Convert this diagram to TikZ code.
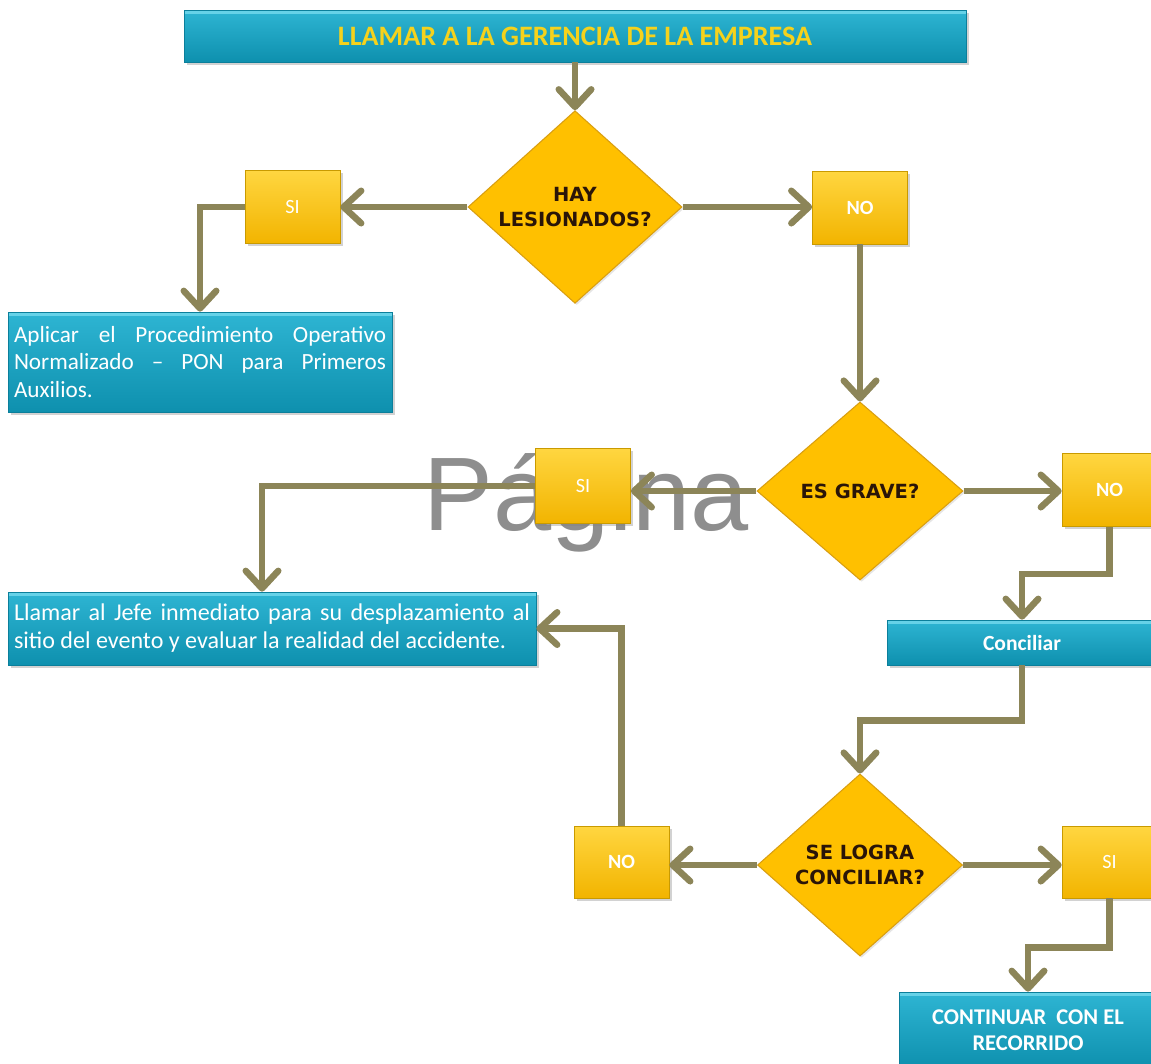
\documentclass[tikz,border=0pt]{standalone}
\usepackage{fontspec}
\setmainfont{Carlito}
\newfontfamily\diafont{DejaVu Sans}
\newfontfamily\wmfont{Liberation Sans}
\usetikzlibrary{arrows.meta,shapes.geometric,shadows}

% one unit of the drawing grid
\newlength\pxu
\setlength\pxu{0.02cm}

\definecolor{connc}{HTML}{8C8558}
\definecolor{tealtop}{HTML}{2EB5D3}
\definecolor{tealbot}{HTML}{0E90AE}
\definecolor{tealedge}{HTML}{0B7F9B}
\definecolor{tealhi}{HTML}{7FE0F2}
\definecolor{ytop}{HTML}{FFD640}
\definecolor{ybot}{HTML}{F2B400}
\definecolor{yedge}{HTML}{C99A00}
\definecolor{dfill}{HTML}{FFC000}
\definecolor{dedge}{HTML}{D99E10}
\definecolor{dtext}{HTML}{2A1508}
\definecolor{titletext}{HTML}{F5D21C}
\definecolor{wmgray}{HTML}{8E8E8E}

\begin{document}
\begin{tikzpicture}[x=0.02cm, y=-0.02cm,
  conn/.style={draw=connc, line width=3.7pt,
    -{Straight Barb[length=10pt, width=18.5pt, round]}},
  tealbox/.style={rectangle, inner sep=0pt, top color=tealtop, bottom color=tealbot,
    draw=tealedge, line width=0.4pt, text=white,
    drop shadow={shadow xshift=1.6pt, shadow yshift=-1.6pt, opacity=0.35},
    path picture={\fill[tealhi, opacity=0.7] (path picture bounding box.north west)
      rectangle ([yshift=-2.2pt]path picture bounding box.north east);}},
  ybox/.style={rectangle, inner sep=0pt, minimum width=95\pxu, minimum height=73\pxu,
    top color=ytop, bottom color=ybot, draw=yedge, line width=0.4pt, text=white,
    drop shadow={shadow xshift=1.6pt, shadow yshift=-1.6pt, opacity=0.35},
    font=\fontsize{11.5}{13}\selectfont},
  dia/.style={diamond, inner sep=0pt, fill=dfill, draw=dedge, line width=0.6pt,
    text=dtext, align=center, font=\diafont\bfseries\fontsize{11.1}{14.2}\selectfont,
    drop shadow={shadow xshift=1pt, shadow yshift=-1pt, opacity=0.2}},
  wm/.style={inner sep=0pt, text=wmgray, font=\wmfont\fontsize{59.5}{60}\selectfont}
]
\useasboundingbox (0,0) rectangle (1151,1063);
\fill[white] (0,0) rectangle (1151,1063);
\clip (0,0) rectangle (1151,1063);

% page watermark behind the chart
\node[wm, anchor=base west] (wm) at (423,530) {Página};

% process boxes
\node[tealbox, minimum width=782\pxu, minimum height=52\pxu, text=titletext,
  font=\bfseries\fontsize{16}{18}\selectfont] (top) at (575,36)
  {LLAMAR A LA GERENCIA DE LA EMPRESA};
\node[tealbox, minimum width=384\pxu, minimum height=100\pxu, text width=372\pxu,
  align=justify, font=\fontsize{13.2}{15.9}\selectfont] (ap) at (200,362)
  {Aplicar el Procedimiento Operativo\linebreak Normalizado – PON para Primeros\linebreak Auxilios.};
\node[tealbox, minimum width=528\pxu, minimum height=73\pxu, text width=516\pxu,
  align=justify, font=\fontsize{13.7}{15.9}\selectfont] (lj) at (272,628.5)
  {Llamar al Jefe inmediato para su desplazamiento al\linebreak sitio del evento y evaluar la realidad del accidente.};
\node[tealbox, minimum width=270\pxu, minimum height=45\pxu,
  font=\bfseries\fontsize{12.3}{14}\selectfont] (cc) at (1022,642.5) {Conciliar};
\node[tealbox, minimum width=258\pxu, minimum height=76\pxu, align=center,
  font=\bfseries\fontsize{12.8}{14.7}\selectfont] (co) at (1028,1030)
  {CONTINUAR\ \ CON EL\\RECORRIDO};

% decisions
\node[dia, minimum width=214\pxu, minimum height=191\pxu] (d1) at (575,207) {HAY\\LESIONADOS?};
\node[dia, minimum width=206\pxu, minimum height=178\pxu] (d2) at (860,491) {ES GRAVE?};
\node[dia, minimum width=205\pxu, minimum height=182\pxu] (d3) at (860,865) {SE LOGRA\\CONCILIAR?};

% answer boxes
\node[ybox] (si1) at (292.5,207) {SI};
\node[ybox, font=\bfseries\fontsize{11.5}{13}\selectfont] (no1) at (860,207.5) {NO};
\node[ybox, minimum height=75\pxu] (si2) at (583,486) {SI};
\node[ybox, font=\bfseries\fontsize{11.5}{13}\selectfont] (no2) at (1109.5,490) {NO};
\node[ybox, minimum height=72\pxu, font=\bfseries\fontsize{11.5}{13}\selectfont] (no3) at (621.5,862) {NO};
\node[ybox, minimum height=72\pxu] (si3) at (1109.5,862) {SI};

% connectors
\draw[conn] (top.south) -- (d1.north);
\draw[conn] (d1.west) -- (d1.west -| si1.east);
\draw[conn] (si1.west) -| (ap.north);
\draw[conn] (d1.east) -- (d1.east -| no1.west);
\draw[conn] (no1.south) -- (no1.south |- d2.north);
\draw[conn] (d2.west) -- (d2.west -| si2.east);
\draw[conn] (si2.west) -| ([xshift=-10\pxu]lj.north);
\draw[conn] (d2.east) -- (d2.east -| no2.west);
\draw[conn] (no2.south) -- ++(0,47) -| (cc.north);
\draw[conn] (cc.south) -- ++(0,55) -| (d3.north);
\draw[conn] (d3.west) -- (d3.west -| no3.east);
\draw[conn] (no3.north) |- (lj.east);
\draw[conn] (d3.east) -- (d3.east -| si3.west);
\draw[conn] (si3.south) -- ++(0,49) -| (co.north);
\end{tikzpicture}
\end{document}
